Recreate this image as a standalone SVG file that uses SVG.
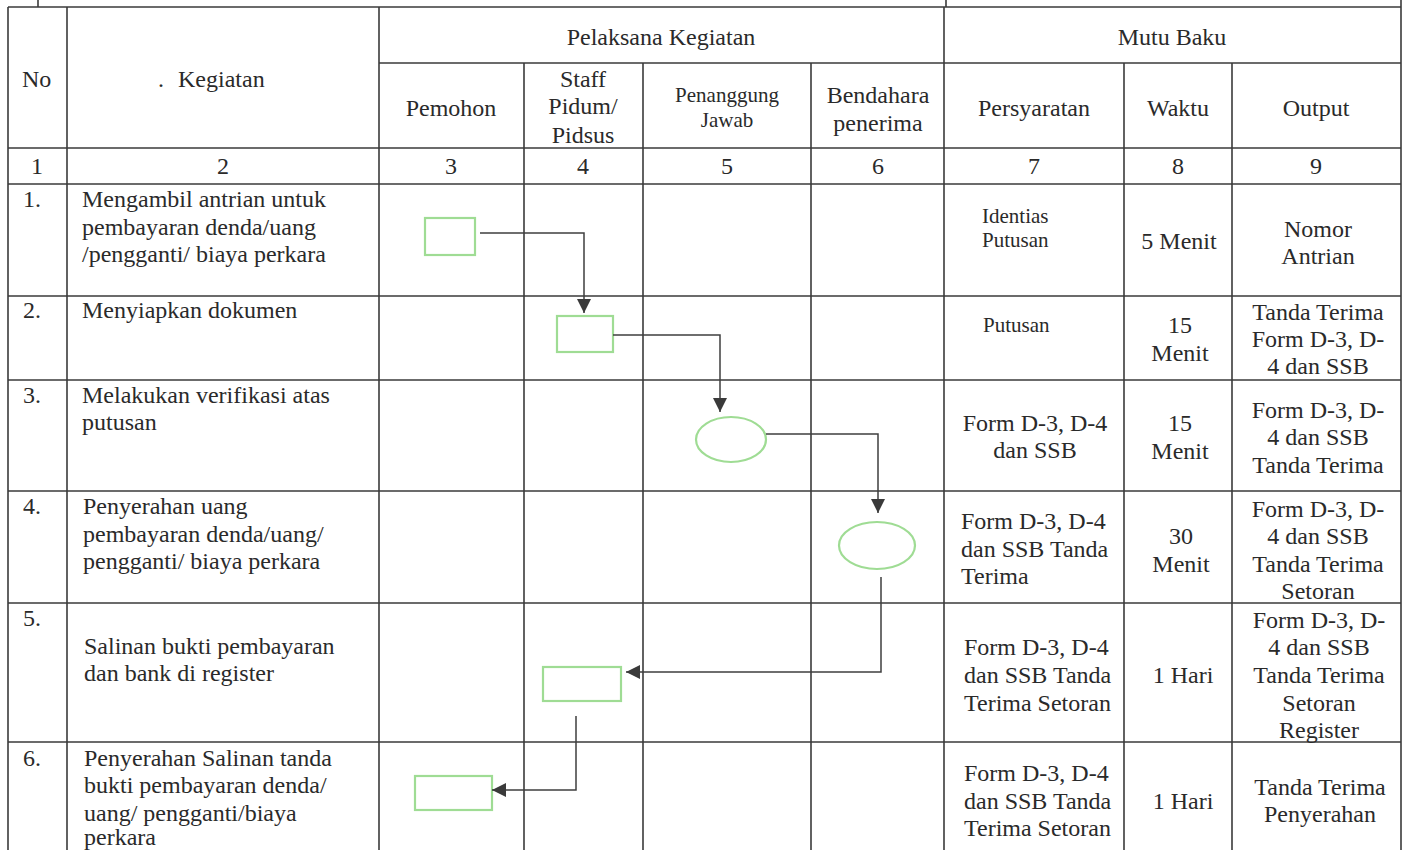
<svg xmlns="http://www.w3.org/2000/svg" width="1410" height="850" viewBox="0 0 1410 850">
<style>
.grid line{stroke:#3a3a3a;stroke-width:1.6}
.txt text{font-size:24px;fill:#2a2a2a}
.txt .c{text-anchor:middle}
.txt .s{font-size:21px}
.box{fill:none;stroke:#9fdc94;stroke-width:2.2}
.conn path{fill:none;stroke:#3f3f3f;stroke-width:1.5}
</style>
<defs>
<marker id="ah" viewBox="0 0 10 10" refX="10" refY="5" markerUnits="userSpaceOnUse" markerWidth="15" markerHeight="14" orient="auto">
<path d="M0,0 L10,5 L0,10 z" fill="#3a3a3a"/>
</marker>
</defs>
<rect width="1410" height="850" fill="#ffffff"/>
<g id="table" class="grid">
<line x1="38" y1="0" x2="38" y2="7"/>
<line x1="946" y1="0" x2="946" y2="7"/>
<line x1="8" y1="7" x2="1401" y2="7"/>
<line x1="379" y1="63" x2="1401" y2="63"/>
<line x1="8" y1="148" x2="1401" y2="148"/>
<line x1="8" y1="184" x2="1401" y2="184"/>
<line x1="8" y1="296" x2="1401" y2="296"/>
<line x1="8" y1="380" x2="1401" y2="380"/>
<line x1="8" y1="491" x2="1401" y2="491"/>
<line x1="8" y1="603" x2="1401" y2="603"/>
<line x1="8" y1="742" x2="1401" y2="742"/>
<line x1="8" y1="7" x2="8" y2="850"/>
<line x1="67" y1="7" x2="67" y2="850"/>
<line x1="379" y1="7" x2="379" y2="850"/>
<line x1="524" y1="63" x2="524" y2="850"/>
<line x1="643" y1="63" x2="643" y2="850"/>
<line x1="811" y1="63" x2="811" y2="850"/>
<line x1="944" y1="7" x2="944" y2="850"/>
<line x1="1124" y1="63" x2="1124" y2="850"/>
<line x1="1232" y1="63" x2="1232" y2="850"/>
<line x1="1401" y1="0" x2="1401" y2="850"/>
</g>
<g class="txt" font-family="'Liberation Serif', 'Times New Roman', Tinos, 'DejaVu Serif', serif">
<g id="header">
<text x="22" y="87">No</text>
<text x="158" y="87">.<tspan x="178">Kegiatan</tspan></text>
<text class="c" x="661" y="45">Pelaksana Kegiatan</text>
<text class="c" x="1172" y="45">Mutu Baku</text>
<text class="c" x="451" y="116">Pemohon</text>
<text class="c" x="583" y="87">Staff</text>
<text class="c" x="583" y="114">Pidum/</text>
<text class="c" x="583" y="143">Pidsus</text>
<text class="c s" x="727" y="102">Penanggung</text>
<text class="c s" x="727" y="127">Jawab</text>
<text class="c" x="878" y="103">Bendahara</text>
<text class="c" x="878" y="131">penerima</text>
<text class="c" x="1034" y="116">Persyaratan</text>
<text class="c" x="1178" y="116">Waktu</text>
<text class="c" x="1316" y="116">Output</text>
<text class="c" x="37" y="174">1</text>
<text class="c" x="223" y="174">2</text>
<text class="c" x="451" y="174">3</text>
<text class="c" x="583" y="174">4</text>
<text class="c" x="727" y="174">5</text>
<text class="c" x="878" y="174">6</text>
<text class="c" x="1034" y="174">7</text>
<text class="c" x="1178" y="174">8</text>
<text class="c" x="1316" y="174">9</text>
</g>
<g id="row1">
<text x="23" y="207">1.</text>
<text x="82" y="207">Mengambil antrian untuk</text>
<text x="82" y="235">pembayaran denda/uang</text>
<text x="82" y="262">/pengganti/ biaya perkara</text>
<text class="s" x="982" y="223">Identias</text>
<text class="s" x="982" y="247">Putusan</text>
<text class="c" x="1179" y="249">5 Menit</text>
<text class="c" x="1318" y="237">Nomor</text>
<text class="c" x="1318" y="264">Antrian</text>
</g>
<g id="row2">
<text x="23" y="318">2.</text>
<text x="82" y="318">Menyiapkan dokumen</text>
<text class="s" x="983" y="332">Putusan</text>
<text class="c" x="1180" y="333">15</text>
<text class="c" x="1180" y="361">Menit</text>
<text class="c" x="1318" y="320">Tanda Terima</text>
<text class="c" x="1318" y="347">Form D-3, D-</text>
<text class="c" x="1318" y="374">4 dan SSB</text>
</g>
<g id="row3">
<text x="23" y="403">3.</text>
<text x="82" y="403">Melakukan verifikasi atas</text>
<text x="82" y="430">putusan</text>
<text class="c" x="1035" y="431">Form D-3, D-4</text>
<text class="c" x="1035" y="458">dan SSB</text>
<text class="c" x="1180" y="431">15</text>
<text class="c" x="1180" y="459">Menit</text>
<text class="c" x="1318" y="418">Form D-3, D-</text>
<text class="c" x="1318" y="445">4 dan SSB</text>
<text class="c" x="1318" y="473">Tanda Terima</text>
</g>
<g id="row4">
<text x="23" y="514">4.</text>
<text x="83" y="514">Penyerahan uang</text>
<text x="83" y="542">pembayaran denda/uang/</text>
<text x="83" y="569">pengganti/ biaya perkara</text>
<text x="961" y="529">Form D-3, D-4</text>
<text x="961" y="557">dan SSB Tanda</text>
<text x="961" y="584">Terima</text>
<text class="c" x="1181" y="544">30</text>
<text class="c" x="1181" y="572">Menit</text>
<text class="c" x="1318" y="517">Form D-3, D-</text>
<text class="c" x="1318" y="544">4 dan SSB</text>
<text class="c" x="1318" y="572">Tanda Terima</text>
<text class="c" x="1318" y="599">Setoran</text>
</g>
<g id="row5">
<text x="23" y="626">5.</text>
<text x="84" y="654">Salinan bukti pembayaran</text>
<text x="84" y="681">dan bank di register</text>
<text x="964" y="655">Form D-3, D-4</text>
<text x="964" y="683">dan SSB Tanda</text>
<text x="964" y="711">Terima Setoran</text>
<text class="c" x="1183" y="683">1 Hari</text>
<text class="c" x="1319" y="628">Form D-3, D-</text>
<text class="c" x="1319" y="655">4 dan SSB</text>
<text class="c" x="1319" y="683">Tanda Terima</text>
<text class="c" x="1319" y="711">Setoran</text>
<text class="c" x="1319" y="738">Register</text>
</g>
<g id="row6">
<text x="23" y="766">6.</text>
<text x="84" y="766">Penyerahan Salinan tanda</text>
<text x="84" y="793">bukti pembayaran denda/</text>
<text x="84" y="821">uang/ pengganti/biaya</text>
<text x="84" y="845">perkara</text>
<text x="964" y="781">Form D-3, D-4</text>
<text x="964" y="809">dan SSB Tanda</text>
<text x="964" y="836">Terima Setoran</text>
<text class="c" x="1183" y="809">1 Hari</text>
<text class="c" x="1320" y="795">Tanda Terima</text>
<text class="c" x="1320" y="822">Penyerahan</text>
</g>
</g>
<g id="node1"><rect class="box" x="425" y="218" width="50" height="37"/></g>
<g id="node2"><rect class="box" x="557" y="316" width="56" height="36"/></g>
<g id="node3"><ellipse class="box" cx="731" cy="439.5" rx="35" ry="22.5"/></g>
<g id="node4"><ellipse class="box" cx="877" cy="545.5" rx="38" ry="23.5"/></g>
<g id="node5"><rect class="box" x="543" y="667" width="78" height="34"/></g>
<g id="node6"><rect class="box" x="415" y="776" width="77" height="34"/></g>
<g id="connectors" class="conn">
<path d="M480,233 H584 V313" marker-end="url(#ah)"/>
<path d="M613,335 H720 V412" marker-end="url(#ah)"/>
<path d="M766,434 H878 V513" marker-end="url(#ah)"/>
<path d="M881,577 V672 H626" marker-end="url(#ah)"/>
<path d="M576,716 V790 H492" marker-end="url(#ah)"/>
</g>
</svg>
